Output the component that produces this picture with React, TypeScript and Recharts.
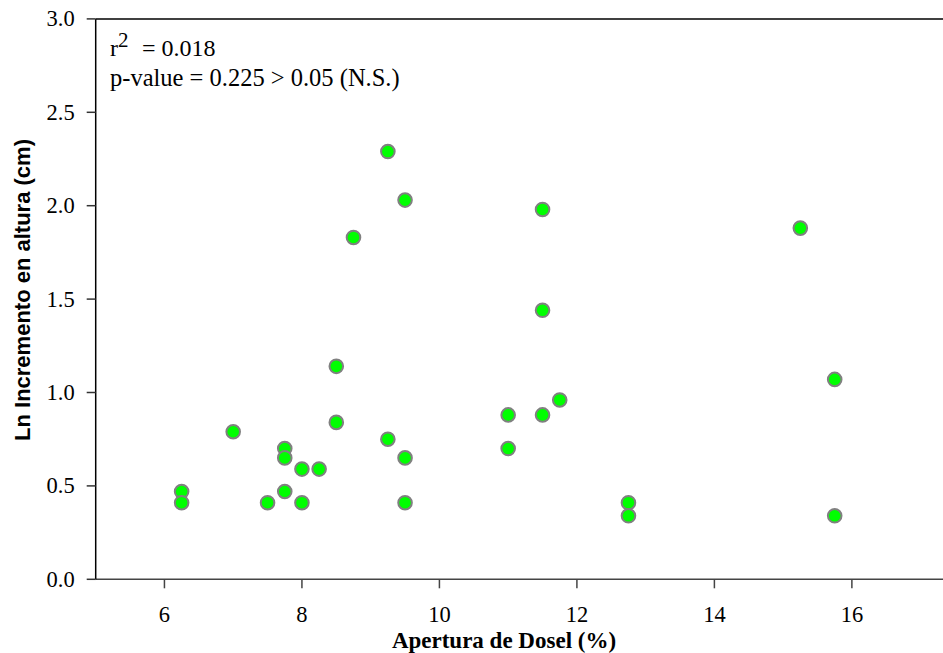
import React from 'react';
import { ScatterChart, Scatter, XAxis, YAxis, ReferenceLine } from 'recharts';

const aperturaDosel = [
  6.25, 6.25, 7.0, 7.5, 7.75, 7.75, 7.75, 8.0, 8.0, 8.25,
  8.5, 8.5, 8.75, 9.25, 9.25, 9.5, 9.5, 9.5,
  11.0, 11.0, 11.5, 11.5, 11.5, 11.75, 12.75, 12.75,
  15.25, 15.75, 15.75,
];
const lnIncremento = [
  0.47, 0.41, 0.79, 0.41, 0.70, 0.65, 0.47, 0.59, 0.41, 0.59,
  0.84, 1.14, 1.83, 2.29, 0.75, 2.03, 0.65, 0.41,
  0.88, 0.70, 1.98, 1.44, 0.88, 0.96, 0.41, 0.34,
  1.88, 1.07, 0.34,
];
const xTicks = [6, 8, 10, 12, 14, 16];
const yTicks = [0, 0.5, 1.0, 1.5, 2.0, 2.5, 3.0];

const xLabel = 'Apertura de Dosel (%)';
const yLabel = 'Ln Incremento en altura (cm)';
const r2Text = '= 0.018';
const pText = 'p-value = 0.225 > 0.05 (N.S.)';

const data = aperturaDosel.map((x, i) => ({ x, y: lnIncremento[i] }));

const serif = '"Liberation Serif", "Times New Roman", serif';
const sans = '"Liberation Sans", Arial, sans-serif';

const Dot = (props: any) => (
  <circle cx={props.cx} cy={props.cy} r={6.8} fill="#00ff00" stroke="#808080" strokeWidth={2} />
);

const XTick = (props: any) => (
  <text x={props.x} y={props.y} dy={14.5} textAnchor="middle" style={{ fontFamily: serif, fontSize: 22.5 }} fill="#000">
    {props.payload.value}
  </text>
);

const YTick = (props: any) => (
  <text x={props.x} y={props.y} dy={7.5} textAnchor="end" style={{ fontFamily: serif, fontSize: 22.5 }} fill="#000">
    {Number(props.payload.value).toFixed(1)}
  </text>
);

export default function App() {
  return (
    <div style={{ position: 'absolute', left: 0, top: 0, width: 943, height: 653, overflow: 'hidden', background: '#fff' }}>
      <ScatterChart width={960} height={653} margin={{ top: 18.9, right: 5, bottom: 0, left: 0 }}>
        <XAxis
          type="number"
          dataKey="x"
          domain={[5, 17.5]}
          ticks={xTicks}
          allowDataOverflow
          height={73.7}
          tickSize={9}
          tickMargin={19}
          axisLine={{ stroke: '#444', strokeWidth: 1.5 }}
          tickLine={{ stroke: '#444', strokeWidth: 1.5 }}
          tick={<XTick />}
        />
        <YAxis
          type="number"
          dataKey="y"
          domain={[0, 3]}
          ticks={yTicks}
          allowDataOverflow
          width={95.7}
          tickSize={9}
          tickMargin={12}
          axisLine={{ stroke: '#000', strokeWidth: 1.5 }}
          tickLine={{ stroke: '#333', strokeWidth: 1.5 }}
          tick={<YTick />}
        />
        <ReferenceLine y={3} stroke="#000" strokeWidth={1.5} />
        <Scatter data={data} shape={Dot} isAnimationActive={false} />
      </ScatterChart>
      <svg width={943} height={653} style={{ position: 'absolute', left: 0, top: 0, pointerEvents: 'none' }}>
        <text x={110} y={56} style={{ fontFamily: serif, fontSize: 24 }} fill="#000">
          r<tspan dy={-9} style={{ fontSize: 21 }}>2</tspan>
        </text>
        <text x={142} y={56} style={{ fontFamily: serif, fontSize: 24 }} fill="#000">{r2Text}</text>
        <text x={110} y={86} style={{ fontFamily: serif, fontSize: 24.5 }} fill="#000">{pText}</text>
        <text x={504} y={647.5} textAnchor="middle" style={{ fontFamily: serif, fontSize: 23, fontWeight: 'bold' }} fill="#000">{xLabel}</text>
        <text transform="translate(30,290) rotate(-90)" textAnchor="middle" style={{ fontFamily: sans, fontSize: 22, fontWeight: 'bold' }} fill="#000">{yLabel}</text>
      </svg>
    </div>
  );
}
